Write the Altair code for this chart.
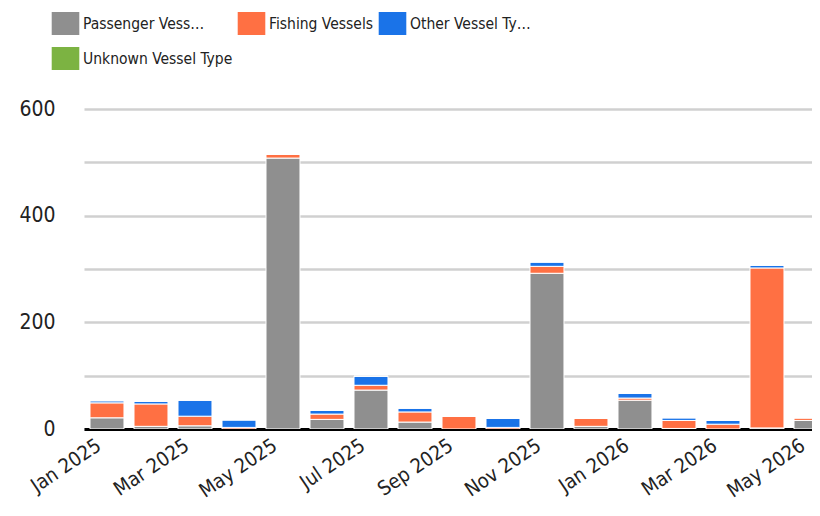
import altair as alt
import pandas as pd

months = ["Jan 2025", "Feb 2025", "Mar 2025", "Apr 2025", "May 2025", "Jun 2025",
          "Jul 2025", "Aug 2025", "Sep 2025", "Oct 2025", "Nov 2025", "Dec 2025",
          "Jan 2026", "Feb 2026", "Mar 2026", "Apr 2026", "May 2026"]
series = ["Passenger Vessels", "Fishing Vessels", "Other Vessel Types", "Unknown Vessel Type"]
passenger = [21, 5, 6, 0, 508, 18, 73, 13, 0, 0, 292, 5, 54, 1, 0, 2, 16]
fishing = [28, 42, 18, 3, 7, 10, 9, 19, 24, 3, 13, 15, 4, 15, 9, 300, 5]
other = [4, 5, 30, 14, 0, 7, 17, 7, 0, 17, 8, 0, 9, 5, 7, 5, 0]
unknown = [0] * 17
colors = ["#8f8f8f", "#ff7043", "#1a73e8", "#7cb342"]
tick_idx = list(range(0, 17, 2))

rows = []
for i, m in enumerate(months):
    for j, (s, vals) in enumerate(zip(series, [passenger, fishing, other, unknown])):
        rows.append({"i": i, "month": m, "series": s, "value": vals[i], "idx": j})
df = pd.DataFrame(rows)

FONT = "DejaVu Sans Condensed"

legend_expr = ("datum.label == 'Passenger Vessels' ? 'Passenger Vess…' : "
               "datum.label == 'Other Vessel Types' ? 'Other Vessel Ty…' : datum.label")
month_expr = "[" + ",".join("'%s'" % m for m in months) + "][datum.value]"

HALF = 0.386  # half bar width in band units

chart = alt.Chart(df).transform_stack(
    stack="value", groupby=["i"], as_=["y0", "y1"], sort=[alt.SortField("idx", "ascending")]
).transform_calculate(
    xa=f"datum.i - {HALF}", xb=f"datum.i + {HALF}"
).mark_bar(stroke="white", strokeWidth=1, clip=True).encode(
    x=alt.X("xa:Q", title=None,
            scale=alt.Scale(domain=[-0.5227, 16.023], nice=False, zero=False),
            axis=alt.Axis(values=tick_idx, labelExpr=month_expr, labelAngle=-34,
                          labelAlign="right", labelBaseline="top", labelPadding=6,
                          labelOffset=-14, ticks=False, grid=False,
                          domainColor="black", domainWidth=3, labelFont=FONT,
                          labelFontSize=20, labelColor="#222222", labelFlush=False,
                          labelOverlap=False)),
    x2="xb:Q",
    y=alt.Y("y0:Q", title=None,
            scale=alt.Scale(domain=[0, 600], nice=False),
            axis=alt.Axis(values=[0, 100, 200, 300, 400, 500, 600],
                          labelExpr="datum.value % 200 == 0 ? datum.label : ''",
                          domain=False, ticks=False, labelPadding=29,
                          gridColor="#d0d0d0", gridWidth=2.5, labelFont=FONT,
                          labelFontSize=21, labelColor="#222222")),
    y2="y1:Q",
    color=alt.Color("series:N", sort=series,
                    scale=alt.Scale(domain=series, range=colors),
                    legend=alt.Legend(title=None, orient="none", legendX=-30, legendY=-97,
                                      direction="horizontal", columns=3,
                                      columnPadding=4, rowPadding=12, padding=0,
                                      symbolType="M-1.2,-1H1.2V1H-1.2Z", symbolSize=529,
                                      symbolStrokeWidth=0, symbolOpacity=1,
                                      labelFont=FONT, labelFontSize=15.5, labelColor="#222222",
                                      labelOffset=6, labelLimit=400, labelExpr=legend_expr)),
).properties(
    width=728, height=320,
    autosize=alt.AutoSizeParams(type="none"),
    padding={"left": 76, "top": 101, "right": 0, "bottom": 79},
).configure_view(stroke=None)

chart.save("out.html", embed_options={"renderer": "svg", "actions": False})
